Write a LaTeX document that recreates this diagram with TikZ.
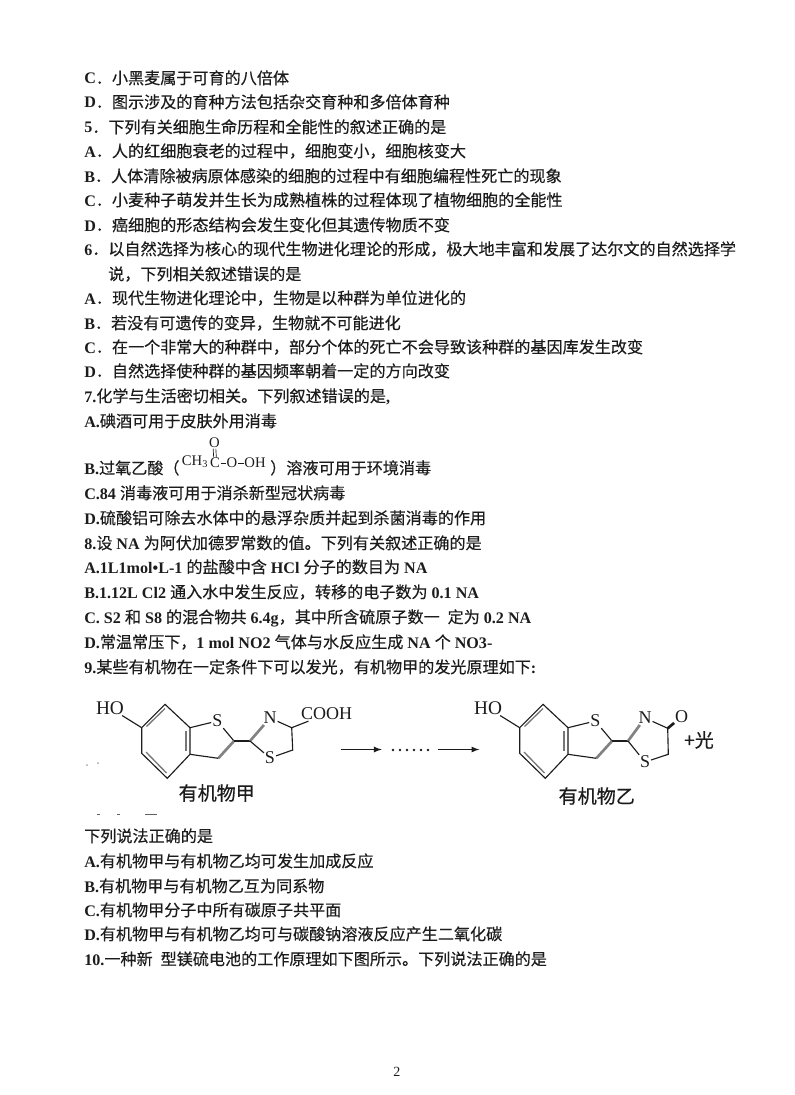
\documentclass[tikz,border=0pt]{standalone}
\usepackage{fontspec}
\setmainfont{Noto Sans CJK SC}[RawFeature={embolden=0.35}]
\newfontfamily\latinf{Liberation Serif}
\newcommand{\la}[1]{{\latinf\bfseries #1}}
\definecolor{inkc}{HTML}{1C1C1C}
\tikzset{
  txt/.style={anchor=base west,inner sep=0pt,text=inkc,font=\fontsize{12.07pt}{12.07pt}\selectfont},
  atomc/.style={inner sep=0.6pt,text=inkc,font=\latinf\fontsize{13.5pt}{13.5pt}\selectfont},
  smallc/.style={inner sep=0.4pt,text=inkc,font=\latinf\fontsize{11pt}{11pt}\selectfont},
  namec/.style={inner sep=0pt,text=inkc,font=\fontsize{14.3pt}{14.3pt}\selectfont},
  bondc/.style={draw=inkc,line width=0.85pt},
  innerc/.style={draw=inkc!60,line width=1pt},
  blurc/.style={draw=inkc!55,line width=2pt}
}
\begin{document}
\begin{tikzpicture}[x=0.75pt,y=0.75pt]
\useasboundingbox (0,0) rectangle (794,-1095);
% text lines
\node (l01) [txt] at (84,-84) {\la{C}．小黑麦属于可育的八倍体};
\node (l02) [txt] at (84,-108) {\la{D}．图示涉及的育种方法包括杂交育种和多倍体育种};
\node (l03) [txt] at (84,-133) {\la{5}．下列有关细胞生命历程和全能性的叙述正确的是};
\node (l04) [txt] at (84,-157) {\la{A}．人的红细胞衰老的过程中，细胞变小，细胞核变大};
\node (l05) [txt] at (84,-182) {\la{B}．人体清除被病原体感染的细胞的过程中有细胞编程性死亡的现象};
\node (l06) [txt] at (84,-206) {\la{C}．小麦种子萌发并生长为成熟植株的过程体现了植物细胞的全能性};
\node (l07) [txt] at (84,-231) {\la{D}．癌细胞的形态结构会发生变化但其遗传物质不变};
\node (l08) [txt] at (84,-255) {\la{6}．以自然选择为核心的现代生物进化理论的形成，极大地丰富和发展了达尔文的自然选择学};
\node (l09) [txt] at (108,-280) {说，下列相关叙述错误的是};
\node (l10) [txt] at (84,-304) {\la{A}．现代生物进化理论中，生物是以种群为单位进化的};
\node (l11) [txt] at (84,-329) {\la{B}．若没有可遗传的变异，生物就不可能进化};
\node (l12) [txt] at (84,-353) {\la{C}．在一个非常大的种群中，部分个体的死亡不会导致该种群的基因库发生改变};
\node (l13) [txt] at (84,-377) {\la{D}．自然选择使种群的基因频率朝着一定的方向改变};
\node (l14) [txt] at (84,-402) {\la{7.}化学与生活密切相关。下列叙述错误的是\la{,}};
\node (l15) [txt] at (84,-427) {\la{A.}碘酒可用于皮肤外用消毒};
\node (l16) [txt] at (84,-474) {\la{B.}过氧乙酸（};
\node (l16b) [txt] at (270,-474) {）溶液可用于环境消毒};
\node (l17) [txt] at (84,-499) {\la{C.84 }消毒液可用于消杀新型冠状病毒};
\node (l18) [txt] at (84,-524) {\la{D.}硫酸铝可除去水体中的悬浮杂质并起到杀菌消毒的作用};
\node (l19) [txt] at (84,-549) {\la{8.}设\la{ NA }为阿伏加德罗常数的值。下列有关叙述正确的是};
\node (l20) [txt] at (84,-573) {\la{A.1L1mol•L-1 }的盐酸中含\la{ HCl }分子的数目为\la{ NA}};
\node (l21) [txt] at (84,-598) {\la{B.1.12L Cl2 }通入水中发生反应，转移的电子数为\la{ 0.1 NA}};
\node (l22) [txt] at (84,-623) {\la{C. S2 }和\la{ S8 }的混合物共\la{ 6.4g}，其中所含硫原子数一\hspace{6pt}定为\la{ 0.2 NA}};
\node (l23) [txt] at (84,-648) {\la{D.}常温常压下，\la{1 mol NO2 }气体与水反应生成\la{ NA }个\la{ NO3-}};
\node (l24) [txt] at (84,-673) {\la{9.}某些有机物在一定条件下可以发光，有机物甲的发光原理如下\la{:}};
\node (l25) [txt] at (84,-842) {下列说法正确的是};
\node (l26) [txt] at (84,-867) {\la{A.}有机物甲与有机物乙均可发生加成反应};
\node (l27) [txt] at (84,-892) {\la{B.}有机物甲与有机物乙互为同系物};
\node (l28) [txt] at (84,-916) {\la{C.}有机物甲分子中所有碳原子共平面};
\node (l29) [txt] at (84,-940) {\la{D.}有机物甲与有机物乙均可与碳酸钠溶液反应产生二氧化碳};
\node (l30) [txt] at (84,-965) {\la{10.}一种新\hspace{6pt}型镁硫电池的工作原理如下图所示。下列说法正确的是};
\node (pnum) [txt,font=\latinf\fontsize{10.5pt}{10.5pt}\selectfont] at (393,-1076) {2};
% peracetic acid
\node (ch3) [smallc] at (195,-462) {CH\textsubscript{3}};
\node (cac) [smallc] at (215,-463) {C};
\node (oup) [smallc] at (214.5,-443) {O};
\node (oa) [smallc] at (232,-463) {O};
\node (oh) [smallc] at (255,-463) {OH};
\draw [bondc,line width=0.5pt] ([xshift=-1pt]oup.south) -- ([xshift=-1pt]cac.north);
\draw [bondc,line width=0.5pt] ([xshift=1pt]oup.south) -- ([xshift=1pt]cac.north);
\draw [bondc,line width=0.5pt] (cac) -- (oa);
\draw [bondc,line width=0.5pt] (oa) -- (oh);
% common part of the two molecules
\foreach \sx/\m in {0/a,378/b} {
\begin{scope}[shift={(\sx,0)}]
\node (ho\m) [atomc,font=\latinf\fontsize{14.5pt}{14.5pt}\selectfont] at (110,-708) {HO};
\coordinate (v1\m) at (141.7,-727.7);
\coordinate (v2\m) at (165,-704.3);
\coordinate (v3\m) at (190,-727.7);
\coordinate (v4\m) at (190,-754.3);
\coordinate (v5\m) at (167.3,-778.3);
\coordinate (v6\m) at (141.7,-753.3);
\coordinate (v7\m) at (234,-741);
\coordinate (v8\m) at (218.3,-758.3);
\coordinate (v9\m) at (250,-741);
\node (s\m) [atomc] at (217.3,-721) {S};
\draw [bondc] (ho\m) -- (v1\m);
\draw [bondc] (v1\m) -- (v2\m) -- (v3\m) -- (v4\m) -- (v5\m) -- (v6\m) -- cycle;
\draw [innerc] (146.5,-726.5) -- (165,-708.5);
\draw [innerc] (186,-731) -- (186,-751);
\draw [innerc] (146,-752) -- (166.5,-773);
\draw [bondc] (v3\m) -- (s\m) -- (v7\m);
\draw [blurc] (v7\m) -- (v8\m);
\draw [bondc] (v8\m) -- (v4\m);
\draw [bondc] (v7\m) -- (v9\m);
\end{scope}
}
% organic compound jia
\node (na) [atomc] at (270,-718) {N};
\node (s2a) [atomc] at (270,-758) {S};
\node (cooh) [atomc] at (326.7,-714) {COOH};
\coordinate (j1) at (291.7,-727.7);
\coordinate (j2) at (292.7,-750);
\draw [blurc] (v9a) -- (na);
\draw [bondc] (na) -- (j1) -- (j2) -- (s2a);
\draw [bondc] (j1) -- (cooh);
\draw [bondc] (v9a) -- (s2a);
\node (jia) [namec] at (216.7,-793) {有机物甲};
% organic compound yi
\node (nb) [atomc] at (645,-718) {N};
\node (s2b) [atomc] at (645,-762) {S};
\node (ob) [atomc] at (681.7,-716.7) {O};
\coordinate (k1) at (667.7,-728.3);
\coordinate (k2) at (668.3,-754.3);
\draw [blurc] (v9b) -- (nb);
\draw [bondc] (nb) -- (k1) -- (k2) -- (s2b);
\draw [bondc,line width=2pt] (k1) -- (ob);
\draw [bondc] (v9b) -- (s2b);
\node (yi) [namec] at (596.7,-796) {有机物乙};
\node (guang) [namec] at (699,-740) {+光};
% arrows and dots
\coordinate (ar1) at (340.7,-749.5);
\coordinate (ar2) at (381.7,-749.5);
\coordinate (ar3) at (438.3,-749.5);
\coordinate (ar4) at (479.3,-749.5);
\draw [-latex,bondc,line width=1pt] (ar1) -- (ar2);
\draw [-latex,bondc,line width=1pt] (ar3) -- (ar4);
\foreach \d in {393,400,407,414,421,428} \fill [inkc] (\d,-750) circle (1.3);
% specks of the scan
\fill [inkc!70] (97,-815) rectangle (100,-814);
\fill [inkc!70] (117,-815) rectangle (120,-814);
\fill [inkc!70] (145,-815) rectangle (157,-814);
\fill [inkc!40] (87,-765) circle (1);
\fill [inkc!40] (98,-763) circle (1);
\end{tikzpicture}
\end{document}
